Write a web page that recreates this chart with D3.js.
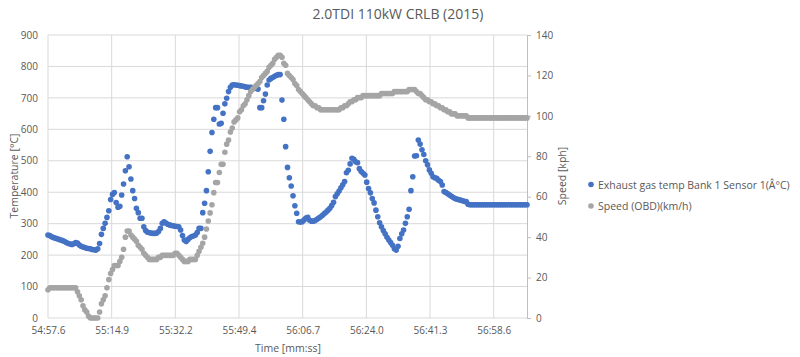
<!DOCTYPE html>
<html><head><meta charset="utf-8">
<script src="https://cdn.jsdelivr.net/npm/d3@7"></script>
<style>
body{margin:0;background:#fff}
text{font-family:"Open Sans","Lato",sans-serif;fill:#595959}
</style></head>
<body><svg id="chart" width="800" height="357"></svg>
<script>
const chartTitle = "2.0TDI 110kW CRLB (2015)";
const startSec = 3297.6; // 54:57.6
const timeOffsets = [
0,0.5,1,1.5,2,2.5,3,3.5,4,4.5,5,5.5,6,6.5,7,7.5,8,8.5,9,9.5,10,10.5,11,11.5,12,12.5,13,13.5,14,
14.5,15,15.5,16,16.5,17,17.5,18,18.5,19,19.5,20,20.5,21,21.5,22,22.5,23,23.5,24,24.5,25,25.5,26,26.5,27,27.5,28,28.5,
29,29.5,30,30.5,31,31.5,32,32.5,33,33.5,34,34.5,35,35.5,36,36.5,37,37.5,38,38.5,39,39.5,40,40.5,41,41.5,42,42.5,43,
43.5,44,44.5,45,45.5,46,46.5,47,47.5,48,48.5,49,49.5,50,50.5,51,51.5,52,52.5,53,53.5,54,54.5,55,55.5,56,56.5,57,57.5,
58,58.5,59,59.5,60,60.5,61,61.5,62,62.5,63,63.5,64,64.5,65,65.5,66,66.5,67,67.5,68,68.5,69,69.5,70,70.5,71,71.5,72,
72.5,73,73.5,74,74.5,75,75.5,76,76.5,77,77.5,78,78.5,79,79.5,80,80.5,81,81.5,82,82.5,83,83.5,84,84.5,85,85.5,86,86.5,
87,87.5,88,88.5,89,89.5,90,90.5,91,91.5,92,92.5,93,93.5,94,94.5,95,95.5,96,96.5,97,97.5,98,98.5,99,99.5,100,100.5,101,
101.5,102,102.5,103,103.5,104,104.5,105,105.5,106,106.5,107,107.5,108,108.5,109,109.5,110,110.5,111,111.5,112,112.5,113,113.5,114,114.5,115,115.5,
116,116.5,117,117.5,118,118.5,119,119.5,120,120.5,121,121.5,122,122.5,123,123.5,124,124.5,125,125.5,126,126.5,127,127.5,128,128.5,129,129.5,130
];
const exhaustTemp = [
264,262,258,256,254,252,250,248,246,243,240,237,235,234,236,240,238,232,228,226,224,222,221,220,218,217,216,220,237,
266,285,301,320,341,377,393,399,367,352,355,391,426,468,513,481,442,405,380,349,335,317,317,290,278,273,271,270,269,
269,270,275,285,301,306,302,298,296,294,293,292,291,290,280,262,248,243,250,255,259,261,264,272,285,285,335,365,405,
465,530,590,632,669,669,617,619,651,681,699,720,734,741,742,741,740,739,738,737,735,734,734,734,733,732,730,728,669,
669,691,712,741,757,762,765,769,772,774,774,693,632,545,479,446,420,389,357,333,306,305,306,312,318,320,311,308,308,
310,314,318,322,327,332,337,343,349,358,368,386,395,404,414,424,434,462,470,490,508,505,497,494,475,466,460,455,432,
412,398,380,366,343,322,303,290,278,268,257,248,240,231,220,216,228,253,268,280,301,322,346,405,449,515,516,566,553,
535,520,500,487,471,460,449,446,444,438,434,423,402,399,395,391,387,383,380,378,376,375,373,371,370,362,360,360,360,
360,360,360,360,360,360,360,360,360,360,360,360,360,360,360,360,360,360,360,360,360,360,360,360,360,360,360,360,360
];
const speedKph = [
14,15,15,15,15,15,15,15,15,15,15,15,15,15,15,15,13,11,9,6,4,3,1,0,0,0,0,0,3,
7,9,11,15,19,22,24,26,26,26,28,30,34,40,43,43,41,40,39,38,36,35,34,32,31,30,29,29,29,
29,29,30,30,31,31,31,31,31,31,31,32,32,31,30,29,28,28,28,29,29,29,29,31,33,35,37,40,44,
48,52,56,62,67,67,72,76,76,82,86,88,92,94,97,98,99,102,103,105,106,108,110,112,113,114,115,116,117,
119,120,121,122,124,125,126,128,129,130,130,129,126,125,121,120,119,118,116,115,113,112,111,110,109,108,107,106,105,
105,104,104,103,103,103,103,103,103,103,103,103,103,103,104,104,105,105,106,107,107,108,108,109,109,109,110,110,110,
110,110,110,110,110,110,110,111,111,111,111,111,111,111,112,112,112,112,112,112,112,112,113,113,113,113,112,111,111,
110,109,108,108,107,107,106,106,105,105,104,104,103,103,102,102,101,101,101,100,100,100,100,100,100,99,99,99,99,
99,99,99,99,99,99,99,99,99,99,99,99,99,99,99,99,99,99,99,99,99,99,99,99,99,99,99,99,99
];
const xTickOffsets = [0,17.28,34.56,51.84,69.12,86.4,103.68,120.96];
const xTickLabels = ["54:57.6","55:14.9","55:32.2","55:49.4","56:06.7","56:24.0","56:41.3","56:58.6"];
const tempTicks = [0,100,200,300,400,500,600,700,800,900];
const speedTicks = [0,20,40,60,80,100,120,140];
const seriesNames = ["Exhaust gas temp Bank 1 Sensor 1(Â°C)","Speed (OBD)(km/h)"];
const seriesColors = ["#4472C4","#A5A5A5"];

const svg = d3.select("#chart");
const L = 48, R = 527, T = 35, B = 318;
const x = d3.scaleLinear().domain([0,130]).range([L,R]);
const yT = d3.scaleLinear().domain([0,900]).range([B,T]);
const yS = d3.scaleLinear().domain([0,140]).range([B,T]);

// gridlines
svg.append("g").selectAll("line").data(tempTicks).join("line")
  .attr("x1",L).attr("x2",R).attr("y1",d=>yT(d)).attr("y2",d=>yT(d))
  .attr("stroke","#D9D9D9").attr("stroke-width",1);
svg.append("g").selectAll("line").data(xTickOffsets).join("line")
  .attr("x1",d=>x(d)).attr("x2",d=>x(d)).attr("y1",T).attr("y2",B)
  .attr("stroke","#D9D9D9").attr("stroke-width",1);

// axes
const ax = svg.append("g").attr("transform",`translate(0,${B})`)
  .call(d3.axisBottom(x).tickValues(xTickOffsets).tickFormat((d,i)=>xTickLabels[i]).tickSize(0).tickPadding(9));
ax.select(".domain").remove();
const al = svg.append("g").attr("transform",`translate(${L},0)`)
  .call(d3.axisLeft(yT).tickValues(tempTicks).tickSize(0).tickPadding(10));
al.select(".domain").remove();
const ar = svg.append("g").attr("transform",`translate(${R},0)`)
  .call(d3.axisRight(yS).tickValues(speedTicks).tickSize(4).tickPadding(5));
ar.select(".domain").attr("stroke","#BFBFBF");
ar.selectAll(".tick line").attr("stroke","#BFBFBF");
svg.selectAll(".tick text").attr("font-size",10).attr("fill","#595959")
  .style("font-family",'"Open Sans",sans-serif');

// series
const temps = timeOffsets.map((t,i)=>({t, v: exhaustTemp[i]}));
const speeds = timeOffsets.map((t,i)=>({t, v: speedKph[i]}));
svg.append("g").selectAll("circle").data(temps).join("circle")
  .attr("cx",d=>x(d.t)).attr("cy",d=>yT(d.v)).attr("r",2.8).attr("fill",seriesColors[0]);
svg.append("g").selectAll("circle").data(speeds).join("circle")
  .attr("cx",d=>x(d.t)).attr("cy",d=>yS(d.v)).attr("r",2.8).attr("fill",seriesColors[1]);

// titles
svg.append("text").attr("x",398).attr("y",19).attr("text-anchor","middle")
  .attr("font-size",14).text(chartTitle);
svg.append("text").attr("transform","translate(18,176) rotate(-90)").attr("text-anchor","middle")
  .attr("font-size",10.5).text("Temperature [°C]");
svg.append("text").attr("transform","translate(566,176) rotate(-90)").attr("text-anchor","middle")
  .attr("font-size",10.5).text("Speed [kph]");
svg.append("text").attr("x",288).attr("y",352).attr("text-anchor","middle")
  .attr("font-size",10.5).text("Time [mm:ss]");

// legend
const lg = svg.append("g").selectAll("g").data(seriesNames).join("g")
  .attr("transform",(d,i)=>`translate(591,${184.5+i*21.5})`);
lg.append("circle").attr("r",2.8).attr("fill",(d,i)=>seriesColors[i]);
lg.append("text").attr("x",7).attr("y",4).attr("font-size",10.5).text(d=>d);
</script></body></html>
